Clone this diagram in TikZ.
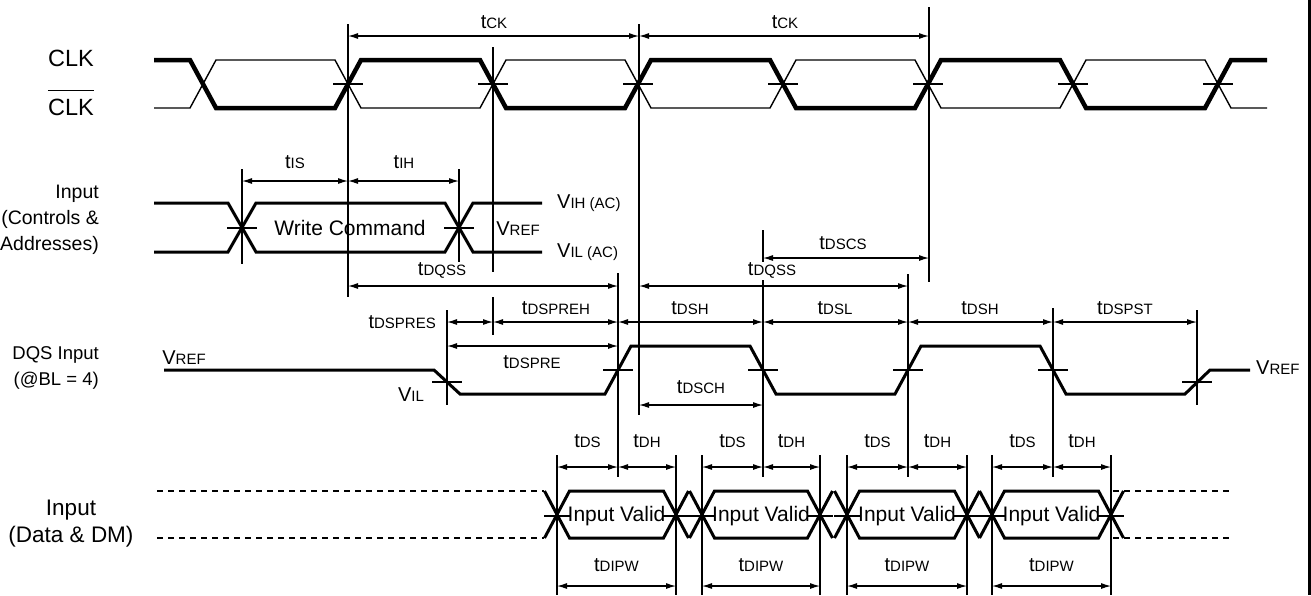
\documentclass[tikz,border=0pt]{standalone}
\usepackage{fontspec}
\setmainfont{Liberation Sans}
\usepackage{tikz}
\usetikzlibrary{arrows.meta}

\newcommand{\sm}[1]{{\fontsize{15}{15}\selectfont #1}}
\newcommand{\tp}[1]{t\sm{#1}}
\newcommand{\vl}[1]{V\sm{#1}}

\tikzset{
	clkhi/.style={line width=4.5pt},
	clklo/.style={line width=1.4pt},
	sig/.style={line width=3pt},
	guide/.style={line width=1.1pt},
	tick/.style={line width=1.1pt},
	level/.style={line width=1.1pt, dash pattern=on 6pt off 5pt},
	dim/.style={line width=1.1pt, {Latex[length=10pt,width=6pt]}-{Latex[length=10pt,width=6pt]}},
	lbl/.style={font=\fontsize{21}{26}\selectfont, inner sep=0pt},
	tlbl/.style={font=\fontsize{20}{22}\selectfont, inner sep=0pt}
}

\begin{document}
\begin{tikzpicture}[x=1pt,y=-1pt]
	\useasboundingbox (0,0) rectangle (1311,595);
	
	% signal names
	\node[lbl,font=\fontsize{23.5}{26}\selectfont] (clk) at (71,58) {CLK};
	\node[lbl,font=\fontsize{23.5}{26}\selectfont] (clkn) at (71,107) {CLK};
	\draw[line width=1.3pt] ([yshift=8pt]clkn.north west) -- ([yshift=8pt]clkn.north east);
	\node[lbl,font=\fontsize{19.5}{26}\selectfont,anchor=east,align=right] (ctrl) at (99,220) {Input\\(Controls \&\\Addresses)};
	\node[lbl,font=\fontsize{18.5}{26}\selectfont,anchor=east,align=right] (dqs) at (99,368) {DQS Input\\(@BL = 4)};
	\node[lbl,font=\fontsize{22.5}{27}\selectfont,align=center] (data) at (71,524) {Input\\(Data \& DM)};
	
	% CLK and CLK#
	\draw[clkhi] (154,60) \foreach \k [evaluate=\k as \cx using {203+145*\k}, evaluate=\k as \ya using {60+48*mod(\k,2)}, evaluate=\k as \yb using {108-48*mod(\k,2)}] in {0,...,7}{ -- (\cx-13,\ya) -- (\cx+13,\yb) } -- (1267,60);
	\draw[clklo] (154,108) \foreach \k [evaluate=\k as \cx using {203+145*\k}, evaluate=\k as \ya using {108-48*mod(\k,2)}, evaluate=\k as \yb using {60+48*mod(\k,2)}] in {0,...,7}{ -- (\cx-13,\ya) -- (\cx+13,\yb) } -- (1267,108);
	\foreach \k in {1,...,7}{
		\draw[tick] ({203+145*\k-15},84) -- ({203+145*\k+15},84);
	}
	
	% guide lines
	\foreach \gx/\ya/\yb in {348/24/297, 493/47/272, 493/297/335, 639/24/415, 929/7/282, 242/169/264, 459/169/262, 763/230/262, 763/280/477, 618/273/477, 908/274/477, 1053/308/477, 447/310/405, 1197/310/405}{
		\draw[guide] (\gx,\ya) -- (\gx,\yb);
	}
	\foreach \gx in {557,676,702,820,847,967,992,1111}{
		\draw[guide] (\gx,455) -- (\gx,595);
	}
	
	% clock period
	\draw[dim] (348,36) -- (639,36);
	\draw[dim] (639,36) -- (929,36);
	\node[tlbl] (tck1) at (494,22) {\tp{CK}};
	\node[tlbl] (tck2) at (785,22) {\tp{CK}};
	
	% controls and addresses
	\draw[sig] (154,203) -- (228,203) -- (256,252) -- (445,252) -- (473,203) -- (542,203);
	\draw[sig] (154,252) -- (228,252) -- (256,203) -- (445,203) -- (473,252) -- (542,252);
	\foreach \cx in {242,459}{
		\draw[tick] (\cx-15,228) -- (\cx+15,228);
	}
	\draw[dim] (242,181) -- (348,181);
	\draw[dim] (348,181) -- (459,181);
	\node[tlbl] (tis) at (295,162) {\tp{IS}};
	\node[tlbl] (tih) at (404,162) {\tp{IH}};
	\node[lbl] (wcmd) at (350,228) {Write Command};
	\node[tlbl] (vref1) at (518,229) {\vl{REF}};
	\node[tlbl,anchor=west] (vih) at (557,203) {\vl{IH (AC)}};
	\node[tlbl,anchor=west] (vil) at (557,252) {\vl{IL (AC)}};
	
	\draw[dim] (763,258) -- (929,258);
	\node[tlbl] (tdscs) at (843,243) {\tp{DSCS}};
	\draw[dim] (348,286) -- (618,286);
	\draw[dim] (639,286) -- (908,286);
	\node[tlbl] (tdqss1) at (442,270) {\tp{DQSS}};
	\node[tlbl] (tdqss2) at (772,270) {\tp{DQSS}};
	
	% DQS
	\draw[dim] (447,322) -- (493,322);
	\foreach \xa/\xb in {493/618, 618/763, 763/908, 908/1053, 1053/1197}{
		\draw[dim] (\xa,322) -- (\xb,322);
	}
	\node[tlbl,anchor=east] (tdspres) at (436,322) {\tp{DSPRES}};
	\node[tlbl] (tdspreh) at (556,308) {\tp{DSPREH}};
	\node[tlbl] (tdsh1) at (690,308) {\tp{DSH}};
	\node[tlbl] (tdsl) at (835,308) {\tp{DSL}};
	\node[tlbl] (tdsh2) at (980,308) {\tp{DSH}};
	\node[tlbl] (tdspst) at (1125,308) {\tp{DSPST}};
	\draw[dim] (447,346) -- (618,346);
	\node[tlbl] (tdspre) at (532,362) {\tp{DSPRE}};
	\draw[dim] (639,405) -- (763,405);
	\node[tlbl] (tdsch) at (701,387) {\tp{DSCH}};
	
	\draw[sig] (164,370) -- (434,370) -- (460,394) -- (605,394) -- (631,346) -- (750,346) -- (776,394) -- (895,394) -- (921,346) -- (1040,346) -- (1066,394) -- (1185,394) -- (1210,370) -- (1250,370);
	\foreach \cx/\cy in {447/382, 618/370, 763/370, 908/370, 1053/370, 1197/382}{
		\draw[tick] (\cx-15,\cy) -- (\cx+15,\cy);
	}
	\node[tlbl] (vref2) at (184,358) {\vl{REF}};
	\node[tlbl] (vil2) at (411,395) {\vl{IL}};
	\node[tlbl,anchor=west] (vref3) at (1256,368) {\vl{REF}};
	
	% data and DM
	\draw[level] (157,491) -- (544,491);
	\draw[level] (157,538) -- (544,538);
	\draw[level] (1113,491) -- (1230,491);
	\draw[level] (1113,538) -- (1230,538);
	\foreach \xs/\xe in {557/676, 702/820, 847/967, 992/1111}{
		\draw[sig] (\xs-12.5,538) -- (\xs+12.5,491) -- (\xe-12.5,491) -- (\xe+12.5,538);
		\draw[sig] (\xs-12.5,491) -- (\xs+12.5,538) -- (\xe-12.5,538) -- (\xe+12.5,491);
		\draw[tick] (\xs-13,516) -- (\xs+13,516);
		\draw[tick] (\xe-13,516) -- (\xe+13,516);
		\node[lbl] (valid\xs) at ({(\xs+\xe)/2},516) {Input Valid};
		\draw[dim] (\xs,586) -- (\xe,586);
		\node[tlbl] (tdipw\xs) at ({(\xs+\xe)/2},565) {\tp{DIPW}};
	}
	\foreach \xs/\xm/\xe in {557/618/676, 702/763/820, 847/908/967, 992/1053/1111}{
		\draw[dim] (\xs,467) -- (\xm,467);
		\draw[dim] (\xm,467) -- (\xe,467);
		\node[tlbl] (tds\xm) at ({(\xs+\xm)/2},441) {\tp{DS}};
		\node[tlbl] (tdh\xm) at ({(\xm+\xe)/2},441) {\tp{DH}};
	}
	
	\draw[line width=2.5pt] (1309.5,0) -- (1309.5,595);
\end{tikzpicture}
\end{document}
